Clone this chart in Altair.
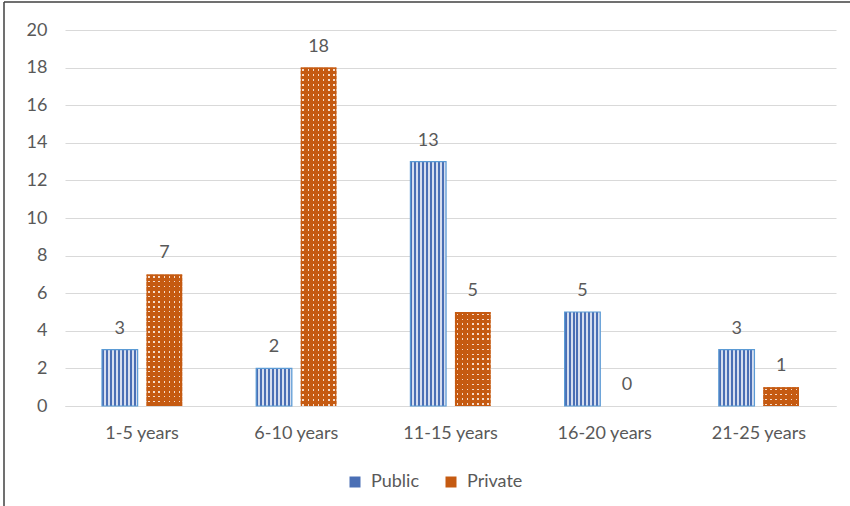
import altair as alt

# Survey counts by years of experience
categories = ["1-5 years", "6-10 years", "11-15 years", "16-20 years", "21-25 years"]
series = ["Public", "Private"]
public_counts = [3, 2, 13, 5, 3]
private_counts = [7, 18, 5, 0, 1]
y_ticks = [0, 2, 4, 6, 8, 10, 12, 14, 16, 18, 20]

Y_MAX = 20
PLOT_W, PLOT_H = 771, 376
PX_PER_UNIT = PLOT_H / Y_MAX

BLUE_DARK = "#4A6FB5"
BLUE_LIGHT = "#D6DEEF"
BLUE_EDGE = "#5B9BD5"
ORANGE = "#C55A11"
DOT = "#F6DCCB"
CLEAR = "rgba(255,255,255,0)"
TEXT = "#595959"
GRID = "#D9D9D9"
FONT = "Lato"
FONT_SIZE = 18


def stripes(n, frac, on, off, vertical=False, phase=0.0):
    """Linear gradient with hard stops: n bands of colour `on` over `off`."""
    stops = []
    for k in range(n):
        a = k / n
        b = (k + phase) / n
        c = (k + phase + frac) / n
        d = (k + 1) / n
        stops += [
            {"offset": a, "color": off},
            {"offset": b, "color": off},
            {"offset": b, "color": on},
            {"offset": c, "color": on},
            {"offset": c, "color": off},
            {"offset": d, "color": off},
        ]
    grad = {"gradient": "linear", "x1": 0, "y1": 0, "x2": 1, "y2": 0, "stops": stops}
    if vertical:
        grad.update({"x2": 0, "y2": 1})
    return grad


def row_mask(value, period=5.0, gap=1.6, lead=1.5):
    """Opaque orange rows with transparent slits at a fixed pixel pitch."""
    h = value * PX_PER_UNIT
    if h <= 0:
        return CLEAR
    pts = []
    y = 0.0
    while y < h:
        solid_end = min(y + lead, h)
        gap_end = min(y + lead + gap, h)
        row_end = min(y + period, h)
        pts += [(y, ORANGE), (solid_end, ORANGE), (solid_end, CLEAR),
                (gap_end, CLEAR), (gap_end, ORANGE), (row_end, ORANGE)]
        y += period
    return {
        "gradient": "linear", "x1": 0, "y1": 0, "x2": 0, "y2": 1,
        "stops": [{"offset": round(o / h, 5), "color": c} for o, c in pts],
    }


public_texture = stripes(9, 0.5, BLUE_DARK, BLUE_LIGHT)
private_texture = stripes(7, 0.32, DOT, CLEAR, phase=0.34)

records = []
for cat, pub, pri in zip(categories, public_counts, private_counts):
    records.append({"age": cat, "series": "Public", "count": pub,
                    "texture": public_texture, "mask": CLEAR, "edge": BLUE_EDGE})
    records.append({"age": cat, "series": "Private", "count": pri,
                    "texture": private_texture, "mask": row_mask(pri), "edge": CLEAR})

data = alt.Data(values=records)

x = alt.X(
    "age:N", sort=categories,
    scale=alt.Scale(paddingInner=0.48, paddingOuter=0.24),
    axis=alt.Axis(title=None, labelAngle=0, domain=True, domainColor=GRID, ticks=False,
                  labelPadding=18, labelFontSize=FONT_SIZE, labelColor=TEXT, labelFont=FONT),
)
xo = alt.XOffset("series:N", sort=series, scale=alt.Scale(paddingInner=0.2))
y = alt.Y(
    "count:Q", stack=None,
    scale=alt.Scale(domain=[0, Y_MAX], nice=False),
    axis=alt.Axis(title=None, values=y_ticks, domain=False, ticks=False, grid=True,
                  gridColor=GRID, labelPadding=18, labelFontSize=FONT_SIZE, labelColor=TEXT,
                  labelFont=FONT),
)

base = alt.Chart(data).mark_bar().encode(
    x=x, xOffset=xo, y=y,
    color=alt.Color(
        "series:N", sort=series,
        scale=alt.Scale(domain=series, range=[BLUE_DARK, ORANGE]),
        legend=alt.Legend(
            title=None, orient="none", legendX=281, legendY=443, direction="horizontal",
            symbolType="square", symbolSize=121, symbolStrokeWidth=0,
            labelFontSize=FONT_SIZE, labelColor=TEXT, labelFont=FONT,
            labelOffset=7, columnPadding=22, padding=0,
        ),
    ),
)

texture = alt.Chart(data).mark_bar().encode(
    x=x, xOffset=xo, y=y, fill=alt.Fill("texture:N", scale=None)
)

mask = alt.Chart(data).mark_bar(strokeWidth=1.2).encode(
    x=x, xOffset=xo, y=y,
    fill=alt.Fill("mask:N", scale=None),
    stroke=alt.Stroke("edge:N", scale=None),
)

labels = alt.Chart(data).mark_text(
    baseline="bottom", dy=-12, fontSize=FONT_SIZE, font=FONT, color=TEXT
).encode(x=x, xOffset=xo, y=y, text="count:Q")

# Outer frame (left and top edges)
frame_left = alt.Chart(alt.Data(values=[{}])).mark_rule(color="#404040", strokeWidth=1.5).encode(
    x=alt.value(-61), y=alt.value(-28), y2=alt.value(PLOT_H + 110)
)
frame_top = alt.Chart(alt.Data(values=[{}])).mark_rule(color="#404040", strokeWidth=1.5).encode(
    x=alt.value(-61), x2=alt.value(PLOT_W + 40), y=alt.value(-28)
)

chart = alt.layer(base, texture, mask, labels, frame_left, frame_top).properties(
    width=PLOT_W, height=PLOT_H,
    autosize="none",
    padding={"left": 65, "top": 30, "right": 14, "bottom": 100},
    background="white",
).configure_view(stroke=None)

chart.save("out.html", embed_options={"renderer": "svg", "actions": False})
